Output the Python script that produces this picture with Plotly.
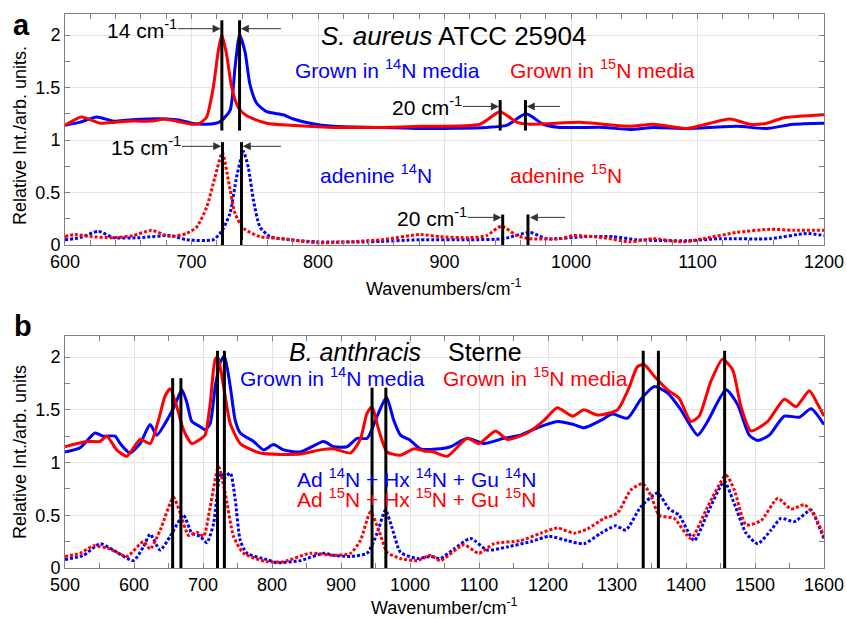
import plotly.graph_objects as go

# ---------------- Panel a data (S. aureus) ----------------
sa14_x = [600, 612, 625, 638, 650, 665, 680, 690, 700, 712, 722, 730.4, 734.4, 738, 742.3, 746.2, 751.5, 759.4, 772.6, 780.5, 793.7, 812, 850, 880.6, 933.3, 949.1, 964.4, 978.1, 991.3, 1025.6, 1046.6, 1065, 1091.4, 1131, 1154.7, 1175.7, 1200]
sa14_y = [1.14, 1.17, 1.22, 1.18, 1.19, 1.20, 1.20, 1.19, 1.16, 1.15, 1.17, 1.28, 1.69, 2.00, 1.84, 1.53, 1.35, 1.27, 1.24, 1.20, 1.16, 1.13, 1.12, 1.11, 1.12, 1.14, 1.25, 1.15, 1.12, 1.12, 1.10, 1.12, 1.11, 1.13, 1.11, 1.15, 1.16]

sa15_x = [600, 613, 627.7, 640, 655, 668, 679, 692, 700, 706.7, 712, 717.2, 721.2, 724, 727.8, 731.8, 737, 743.6, 759.4, 777.9, 812, 850, 880.6, 928, 943.9, 957, 967.6, 1007, 1025.6, 1046.6, 1065, 1091.4, 1125.7, 1141.5, 1154.7, 1167.8, 1200]
sa15_y = [1.14, 1.22, 1.16, 1.17, 1.18, 1.18, 1.20, 1.17, 1.15, 1.16, 1.22, 1.50, 1.85, 2.00, 1.81, 1.50, 1.31, 1.23, 1.16, 1.14, 1.12, 1.12, 1.13, 1.15, 1.27, 1.17, 1.15, 1.17, 1.15, 1.13, 1.15, 1.11, 1.20, 1.15, 1.16, 1.21, 1.24]

ad14_x = [600, 611.9, 626.3, 638.2, 659.3, 683, 696.2, 717.2, 723.8, 730.4, 735.7, 741, 744.9, 748.9, 754.2, 762.1, 777.9, 799, 840, 880.6, 920.2, 946.5, 967.6, 980.8, 1012.4, 1033.4, 1051.9, 1091.4, 1117.8, 1157.3, 1186.3, 1200]
ad14_y = [0.05, 0.07, 0.13, 0.07, 0.07, 0.09, 0.05, 0.05, 0.13, 0.30, 0.65, 0.89, 0.74, 0.43, 0.17, 0.08, 0.05, 0.03, 0.03, 0.05, 0.05, 0.06, 0.12, 0.06, 0.08, 0.08, 0.05, 0.04, 0.06, 0.06, 0.11, 0.09]

ad15_x = [600, 607.9, 619.8, 638, 654, 668.5, 683, 696, 704, 712, 718.6, 724.4, 729.1, 734.4, 741, 754, 772.6, 791, 801.6, 850, 880.6, 896.4, 920, 933.4, 945, 957, 967.6, 991.3, 1001.8, 1025.6, 1046.6, 1065, 1088.8, 1104.6, 1131, 1157.3, 1175.7, 1200]
ad15_y = [0.08, 0.10, 0.08, 0.07, 0.09, 0.14, 0.08, 0.11, 0.17, 0.36, 0.65, 0.88, 0.62, 0.30, 0.16, 0.08, 0.06, 0.03, 0.02, 0.05, 0.10, 0.08, 0.07, 0.09, 0.18, 0.09, 0.06, 0.06, 0.09, 0.07, 0.03, 0.06, 0.03, 0.06, 0.12, 0.15, 0.14, 0.14]

# marker lines panel a
a_line_x = [724, 738, 944, 964, 724.5, 739.5, 946, 966]
a_line_y0 = [1.09, 1.09, 1.09, 1.09, 0, 0, 0, 0]
a_line_y1 = [2.14, 2.14, 1.38, 1.38, 0.98, 0.98, 0.29, 0.29]

# ---------------- Panel b data (B. anthracis) ----------------
ba14_x = [500, 521.8, 543.5, 555.6, 572.6, 580, 594, 608.8, 623.4, 633, 647.6, 659.6, 669.3, 676.6, 683.8, 696, 703.2, 710.4, 717.7, 725, 731, 739.5, 746.7, 754, 773.3, 787.8, 802.3, 816.8, 841, 874.9, 889.4, 908.8, 923.3, 937.9, 952.4, 965.9, 976.5, 986.2, 1000.7, 1015.2, 1044, 1058.8, 1083, 1107, 1136, 1160, 1184.5, 1213.5, 1237.7, 1252, 1276.5, 1293.4, 1315.2, 1334.5, 1353.9, 1373.2, 1392.6, 1416.8, 1431.3, 1457.9, 1474.8, 1491.7, 1504, 1520.8, 1542.5, 1564.3, 1581.3, 1600]
ba14_y = [1.10, 1.14, 1.28, 1.25, 1.25, 1.18, 1.09, 1.18, 1.36, 1.26, 1.40, 1.55, 1.69, 1.57, 1.39, 1.34, 1.31, 1.37, 1.72, 1.95, 2.01, 1.72, 1.40, 1.28, 1.20, 1.12, 1.17, 1.12, 1.10, 1.20, 1.15, 1.15, 1.23, 1.23, 1.44, 1.62, 1.40, 1.26, 1.21, 1.13, 1.13, 1.15, 1.23, 1.18, 1.23, 1.26, 1.33, 1.39, 1.36, 1.33, 1.40, 1.46, 1.42, 1.60, 1.72, 1.66, 1.50, 1.26, 1.39, 1.69, 1.55, 1.26, 1.21, 1.26, 1.44, 1.43, 1.51, 1.36]

ba15_x = [500, 531.5, 550.8, 560.5, 575, 589.6, 608.9, 623.4, 635.4, 645, 652.4, 662, 671.7, 683.8, 696, 703, 710.4, 717.7, 721.5, 729.8, 739.5, 754, 783, 841, 870, 889.4, 913.6, 928, 937.8, 945, 954.7, 966.8, 986.2, 1005.6, 1020, 1034.5, 1053.9, 1083, 1099.8, 1124, 1141, 1170, 1194.2, 1213.5, 1235.3, 1252, 1271.5, 1300.5, 1317.4, 1329.6, 1339.3, 1353.8, 1373.2, 1390, 1407, 1419, 1436, 1453, 1467.5, 1479.7, 1494.2, 1518.4, 1542.5, 1559.5, 1578.8, 1591, 1600]
ba15_y = [1.15, 1.20, 1.20, 1.25, 1.12, 1.06, 1.22, 1.18, 1.40, 1.63, 1.70, 1.53, 1.31, 1.18, 1.22, 1.26, 1.56, 1.98, 2.00, 1.72, 1.37, 1.18, 1.09, 1.08, 1.12, 1.13, 1.09, 1.22, 1.47, 1.53, 1.31, 1.10, 1.07, 1.13, 1.11, 1.10, 1.06, 1.23, 1.18, 1.30, 1.22, 1.28, 1.40, 1.52, 1.44, 1.50, 1.45, 1.50, 1.71, 1.91, 1.93, 1.82, 1.69, 1.61, 1.39, 1.44, 1.77, 1.98, 1.88, 1.53, 1.30, 1.39, 1.60, 1.53, 1.68, 1.55, 1.44]

mix14_x = [500, 526.6, 550.8, 570, 599, 613.6, 623.4, 637.9, 652.4, 671.7, 683.8, 696, 705.6, 715.3, 725, 729.8, 739.5, 746.7, 754, 763.7, 792.6, 807.2, 841, 875, 889.4, 913.6, 937.8, 952.4, 964.4, 974.1, 986.2, 1010.4, 1029.8, 1044, 1063.6, 1087.8, 1112, 1141, 1174.9, 1201.5, 1228, 1252, 1276.5, 1298, 1312.8, 1334.5, 1358.7, 1375.6, 1390, 1411.9, 1431.3, 1455.5, 1470, 1487, 1504, 1523.2, 1537.7, 1557, 1581.3, 1591, 1600]
mix14_y = [0.08, 0.12, 0.23, 0.17, 0.07, 0.20, 0.32, 0.17, 0.30, 0.50, 0.33, 0.30, 0.24, 0.42, 0.90, 0.85, 0.90, 0.65, 0.26, 0.14, 0.08, 0.05, 0.07, 0.14, 0.12, 0.11, 0.14, 0.33, 0.55, 0.38, 0.15, 0.09, 0.11, 0.09, 0.18, 0.28, 0.17, 0.20, 0.25, 0.30, 0.26, 0.23, 0.33, 0.40, 0.36, 0.58, 0.71, 0.56, 0.50, 0.26, 0.52, 0.82, 0.61, 0.33, 0.23, 0.36, 0.47, 0.44, 0.55, 0.42, 0.28]

mix15_x = [500, 521.8, 541, 565.3, 589.6, 613.6, 623.4, 638, 657.2, 667, 679, 691.2, 700.8, 710.4, 722.5, 732.2, 744.3, 758.8, 792.7, 816.8, 855.6, 889.4, 913.6, 928, 942.7, 954.7, 966.8, 986.2, 1010.4, 1029.8, 1044, 1078, 1099.8, 1121.6, 1160.4, 1189.4, 1213.5, 1237.7, 1257, 1281, 1300.5, 1320, 1337, 1349, 1361, 1383, 1407, 1431.3, 1458, 1470, 1487, 1508.7, 1532.9, 1552.2, 1571.6, 1586, 1600]
mix15_y = [0.11, 0.14, 0.21, 0.18, 0.11, 0.25, 0.18, 0.36, 0.67, 0.52, 0.31, 0.34, 0.30, 0.58, 0.96, 0.71, 0.30, 0.14, 0.06, 0.06, 0.14, 0.12, 0.14, 0.26, 0.53, 0.36, 0.15, 0.09, 0.07, 0.12, 0.07, 0.22, 0.14, 0.23, 0.26, 0.33, 0.38, 0.33, 0.37, 0.47, 0.52, 0.74, 0.80, 0.69, 0.50, 0.47, 0.28, 0.58, 0.88, 0.74, 0.41, 0.45, 0.66, 0.56, 0.60, 0.50, 0.30]

b_line_x = [656, 668, 721, 731, 945, 965, 1338, 1360, 1456]
b_line_y1 = [1.80, 1.80, 2.06, 2.06, 1.71, 1.71, 2.06, 2.06, 2.06]

BLUE = "#0000ff"
RED = "#ff0000"
FONT = "Liberation Sans, Arial, Helvetica, sans-serif"

fig = go.Figure()

def add_line(x, y, color, dash, xa, ya):
    fig.add_trace(go.Scatter(x=x, y=y, mode="lines", xaxis=xa, yaxis=ya,
                             line=dict(color=color, width=3, dash=dash,
                                       shape="spline", smoothing=0.6),
                             showlegend=False, hoverinfo="skip"))

DOT = "3px,2px"
add_line(ad14_x, ad14_y, BLUE, DOT, "x", "y")
add_line(ad15_x, ad15_y, RED, DOT, "x", "y")
add_line(sa14_x, sa14_y, BLUE, "solid", "x", "y")
add_line(sa15_x, sa15_y, RED, "solid", "x", "y")

add_line(mix14_x, mix14_y, BLUE, DOT, "x2", "y2")
add_line(mix15_x, mix15_y, RED, DOT, "x2", "y2")
add_line(ba14_x, ba14_y, BLUE, "solid", "x2", "y2")
add_line(ba15_x, ba15_y, RED, "solid", "x2", "y2")

# vertical marker lines
vx, vy = [], []
for x0, y0, y1 in zip(a_line_x, a_line_y0, a_line_y1):
    vx += [x0, x0, None]
    vy += [y0, y1, None]
fig.add_trace(go.Scatter(x=vx, y=vy, mode="lines", xaxis="x", yaxis="y",
                         line=dict(color="black", width=3), showlegend=False, hoverinfo="skip"))
vx, vy = [], []
for x0, y1 in zip(b_line_x, b_line_y1):
    vx += [x0, x0, None]
    vy += [0, y1, None]
fig.add_trace(go.Scatter(x=vx, y=vy, mode="lines", xaxis="x2", yaxis="y2",
                         line=dict(color="black", width=3), showlegend=False, hoverinfo="skip"))

ann = []
def txt(x, y, text, color="black", size=21, xref="x", yref="y", xanchor="left"):
    ann.append(dict(x=x, y=y, xref=xref, yref=yref, text=text, showarrow=False,
                    xanchor=xanchor, yanchor="middle",
                    font=dict(family=FONT, size=size, color=color)))

def arrow(x_head, x_tail, y, text="", xref="x", yref="y"):
    ann.append(dict(x=x_head, y=y, ax=x_tail, ay=y, xref=xref, yref=yref,
                    axref=xref, ayref=yref, text=text if text else " ",
                    showarrow=True, arrowhead=2, arrowsize=1.6, arrowwidth=1,
                    arrowcolor="#333333", xanchor="right" if text else "left",
                    yanchor="middle", borderpad=0,
                    font=dict(family=FONT, size=21, color="black")))

# panel a texts
txt(800.5, 1.99, "<i>S. aureus</i> ATCC 25904", size=26)
txt(780.2, 1.68, "Grown in <sup>14</sup>N media", BLUE)
txt(950.2, 1.68, "Grown in <sup>15</sup>N media", RED)
txt(800, 0.68, "adenine <sup>14</sup>N", BLUE)
txt(950.2, 0.68, "adenine <sup>15</sup>N", RED)
arrow(723.0, 689.3, 2.06, "14 cm<sup>-1</sup>")
arrow(739.0, 770.7, 2.06)
arrow(723.5, 692.5, 0.94, "15 cm<sup>-1</sup>")
arrow(740.5, 770.7, 0.94)
arrow(943.0, 914.6, 1.32, "20 cm<sup>-1</sup>")
arrow(965.0, 991.3, 1.32)
arrow(945.0, 918.3, 0.263, "20 cm<sup>-1</sup>")
arrow(967.5, 995.3, 0.263)

# panel b texts
txt(822.2, 2.045, "<i>B. anthracis</i>", size=25, xref="x2", yref="y2")
txt(1051.5, 2.045, "Sterne", size=25, xref="x2", yref="y2")
txt(751, 1.81, "Grown in <sup>14</sup>N media", BLUE, xref="x2", yref="y2")
txt(1044.3, 1.81, "Grown in <sup>15</sup>N media", RED, xref="x2", yref="y2")
txt(833.8, 0.855, "Ad <sup>14</sup>N + Hx <sup>14</sup>N + Gu <sup>14</sup>N", BLUE, xref="x2", yref="y2")
txt(833.8, 0.665, "Ad <sup>15</sup>N + Hx <sup>15</sup>N + Gu <sup>15</sup>N", RED, xref="x2", yref="y2")

# panel labels and axis titles (paper coords)
W, H = 847, 619
ML, MR, MT, MB = 65, 23, 14, 51
PW, PH = W - ML - MR, H - MT - MB
def px(xp):
    return (xp - ML) / PW
def py(yp):
    return (H - MB - yp) / PH

for lab, xp, yp in [("a", 21, 25), ("b", 23, 326)]:
    ann.append(dict(x=px(xp), y=py(yp), xref="paper", yref="paper", text=f"<b>{lab}</b>",
                    showarrow=False, xanchor="center", yanchor="middle",
                    font=dict(family=FONT, size=29, color="black")))
for t, yp in [("Wavenumbers/cm<sup>-1</sup>", 287), ("Wavenumber/cm<sup>-1</sup>", 606)]:
    ann.append(dict(x=px(444), y=py(yp), xref="paper", yref="paper", text=t,
                    showarrow=False, xanchor="center", yanchor="middle",
                    font=dict(family=FONT, size=18, color="black")))
for t, yp in [("Relative Int./arb. units.", 136), ("Relative Int./arb. units", 452)]:
    ann.append(dict(x=px(20), y=py(yp), xref="paper", yref="paper",
                    text=t, textangle=-90,
                    showarrow=False, xanchor="center", yanchor="middle",
                    font=dict(family=FONT, size=18, color="black")))

axis_common = dict(showline=True, linecolor="#808080", linewidth=1, mirror="ticks",
                   ticks="inside", ticklen=5, tickcolor="#808080", tickwidth=1,
                   showgrid=True, gridcolor="#e4e4e4", gridwidth=1, zeroline=False,
                   automargin=False,
                   tickfont=dict(family=FONT, size=18, color="black"))

fig.update_layout(
    width=W, height=H,
    margin=dict(l=ML, r=MR, t=MT, b=MB, autoexpand=False),
    paper_bgcolor="white", plot_bgcolor="white",
    hovermode=False,
    xaxis=dict(domain=[0, 1], anchor="y", range=[600, 1200], dtick=100,
               minor=dict(ticks="inside", dtick=20, ticklen=5, tickcolor="#808080", showgrid=False),
               **axis_common),
    yaxis=dict(domain=[py(245), 1], anchor="x", range=[0, 2.2], dtick=0.5,
               minor=dict(ticks="inside", dtick=0.25, ticklen=5, tickcolor="#808080", showgrid=False),
               **axis_common),
    xaxis2=dict(domain=[0, 1], anchor="y2", range=[500, 1600], dtick=100,
                minor=dict(ticks="inside", dtick=50, ticklen=5, tickcolor="#808080", showgrid=False),
                **axis_common),
    yaxis2=dict(domain=[0, py(336)], anchor="x2", range=[0, 2.2], dtick=0.5,
                minor=dict(ticks="inside", dtick=0.25, ticklen=5, tickcolor="#808080", showgrid=False),
                **axis_common),
    annotations=ann,
)

fig.write_html("out.html", config={"displayModeBar": False, "staticPlot": True},
               post_script="document.body.style.margin='0';document.body.style.overflow='hidden';")
